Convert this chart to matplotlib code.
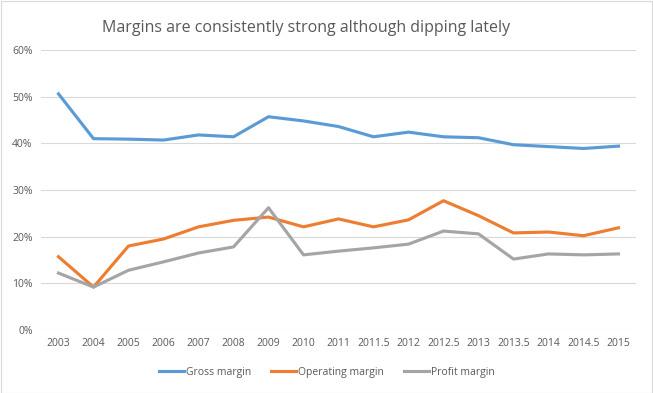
import matplotlib
matplotlib.use('Agg')
from matplotlib import pyplot as plt
from matplotlib.patches import Rectangle

years = ['2003', '2004', '2005', '2006', '2007', '2008', '2009', '2010', '2011',
         '2011.5', '2012', '2012.5', '2013', '2013.5', '2014', '2014.5', '2015']
gross = [50.6, 41.0, 40.9, 40.7, 41.8, 41.4, 45.7, 44.8, 43.6, 41.4, 42.4,
         41.4, 41.2, 39.7, 39.3, 38.9, 39.4]
operating = [15.7, 9.2, 18.0, 19.5, 22.1, 23.5, 24.2, 22.1, 23.8, 22.1, 23.6,
             27.7, 24.5, 20.8, 21.0, 20.2, 21.9]
profit = [12.2, 9.2, 12.8, 14.6, 16.5, 17.8, 26.2, 16.1, 16.9, 17.6, 18.4,
          21.2, 20.6, 15.2, 16.3, 16.1, 16.3]
yticks = [0, 10, 20, 30, 40, 50, 60]

plt.rcParams['font.family'] = ['Open Sans', 'DejaVu Sans']
txt = '#595959'

fig = plt.figure(figsize=(6.53, 3.93), dpi=100)
fig.patches.append(Rectangle((0.001, 0.001), 0.997, 0.996, transform=fig.transFigure,
                             fill=False, edgecolor='#D9D9D9', lw=0.8))
ax = fig.add_axes([41 / 653, 1 - 330 / 393, 595 / 653, 280 / 393])

x = list(range(len(years)))
ax.plot(x, gross, color='#5B9BD5', lw=2.25, label='Gross margin')
ax.plot(x, operating, color='#ED7D31', lw=2.25, label='Operating margin')
ax.plot(x, profit, color='#A5A5A5', lw=2.25, label='Profit margin')

ax.set_xlim(-0.5, len(years) - 0.5)
ax.set_ylim(0, 60)
ax.set_xticks(x)
ax.set_xticklabels(years)
ax.set_yticks(yticks)
ax.set_yticklabels([f'{v}%' for v in yticks])
ax.tick_params(length=0, labelsize=7.5, colors=txt, pad=6)
ax.grid(axis='y', color='#D9D9D9', lw=0.8)
ax.set_axisbelow(True)
for s in ax.spines.values():
    s.set_visible(False)

fig.text(0.468, 1 - 28 / 393, 'Margins are consistently strong although dipping lately',
         ha='center', va='center', fontsize=11.5, color=txt)
fig.legend(loc='center', bbox_to_anchor=(0.5, 1 - 372 / 393), ncol=3, frameon=False,
           fontsize=7.5, labelcolor=txt, handlelength=2.4, handletextpad=0.2,
           columnspacing=1.9)

fig.savefig('out.png', dpi=100)
